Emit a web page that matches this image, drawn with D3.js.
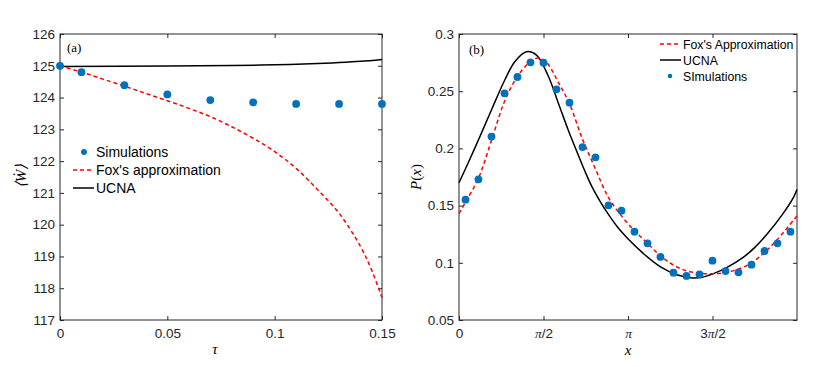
<!DOCTYPE html>
<html>
<head>
<meta charset="utf-8">
<script src="https://cdn.jsdelivr.net/npm/d3@7"></script>
<style>
body { margin: 0; background: #fff; }
.tick text { font-family: "Liberation Sans", Arial, sans-serif; font-size: 13.5px; fill: #262626; }
.tick line { stroke: #262626; }
.it { font-family: "Liberation Serif", serif; font-style: italic; }
.leg { font-family: "Liberation Sans", Arial, sans-serif; fill: #000; }
</style>
</head>
<body>
<svg id="fig" width="830" height="367"></svg>
<script>
// panel (a): work rate vs tau
var tauSim = [0, 0.01, 0.03, 0.05, 0.07, 0.09, 0.11, 0.13, 0.15];
var wSim = [125.0, 124.80, 124.39, 124.10, 123.92, 123.85, 123.80, 123.80, 123.80];
var tauFox = [0, 0.01, 0.02, 0.03, 0.04, 0.05, 0.06, 0.07, 0.08, 0.09, 0.10, 0.11, 0.12, 0.13, 0.14, 0.145, 0.15];
var wFox = [125.0, 124.80, 124.58, 124.36, 124.13, 123.90, 123.66, 123.40, 123.08, 122.72, 122.30, 121.77, 121.10, 120.36, 119.31, 118.60, 117.70];
var tauUcna = [0, 0.05, 0.08, 0.10, 0.12, 0.13, 0.14, 0.15];
var wUcna = [124.98, 124.99, 125.01, 125.03, 125.07, 125.10, 125.14, 125.20];
var aYTicks = [117, 118, 119, 120, 121, 122, 123, 124, 125, 126];
var aXTicks = [0, 0.05, 0.1, 0.15];
var aXLabels = ["0", "0.05", "0.1", "0.15"];

// panel (b): stationary distribution
var xSim = [0.121, 0.362, 0.604, 0.846, 1.087, 1.329, 1.571, 1.812, 2.054, 2.296, 2.537, 2.779, 3.020,
            3.262, 3.504, 3.745, 3.987, 4.229, 4.470, 4.712, 4.954, 5.195, 5.437, 5.679, 5.920, 6.162];
var pSim = [0.1552, 0.1730, 0.2103, 0.2481, 0.2624, 0.2752, 0.2749, 0.2516, 0.2400, 0.2012, 0.1922, 0.1502, 0.1456,
            0.1272, 0.1170, 0.1051, 0.0914, 0.0885, 0.0899, 0.1019, 0.0928, 0.0917, 0.0984, 0.1103, 0.1170, 0.1272];
var xFox = [0, 0.121, 0.362, 0.604, 0.846, 1.087, 1.329, 1.471, 1.629, 1.844, 2.054, 2.296, 2.537, 2.779, 3.020,
            3.262, 3.504, 3.745, 3.987, 4.229, 4.470, 4.712, 4.954, 5.195, 5.437, 5.679, 5.920, 6.283];
var pFox = [0.143, 0.153, 0.174, 0.207, 0.241, 0.263, 0.276, 0.279, 0.275, 0.258, 0.239, 0.208, 0.182, 0.157, 0.141,
            0.128, 0.117, 0.106, 0.098, 0.093, 0.091, 0.0905, 0.0915, 0.0945, 0.100, 0.109, 0.1205, 0.141];
var xUcna = [0, 0.168, 0.385, 0.603, 0.851, 1.037, 1.255, 1.441, 1.657, 1.844, 2.030, 2.154, 2.328, 2.466, 2.620,
             2.775, 2.950, 3.140, 3.430, 3.740, 4.050, 4.300, 4.500, 4.730, 5.000, 5.289, 5.500, 5.724, 6.000, 6.221, 6.283];
var pUcna = [0.170, 0.187, 0.210, 0.2336, 0.2598, 0.2758, 0.2845, 0.2816, 0.2635, 0.2400, 0.2161, 0.2015, 0.1815, 0.1670, 0.1540,
             0.1425, 0.1310, 0.1210, 0.1080, 0.0966, 0.0895, 0.0870, 0.0872, 0.0905, 0.0965, 0.1050, 0.1135, 0.1250, 0.1415, 0.1575, 0.1640];
var bYTicks = [0.05, 0.1, 0.15, 0.2, 0.25, 0.3];
var bXTicks = [0, Math.PI / 2, Math.PI, 3 * Math.PI / 2];
var bXLabels = ["0", "π/2", "π", "3π/2"];

var blue = "#0072bd";
var svg = d3.select("#fig");

function frame(x, y, xt, yt, xfmt, yfmt) {
    var g = svg.append("g");
    var x0 = x.range()[0], x1 = x.range()[1], y0 = y.range()[0], y1 = y.range()[1];
    g.append("g").attr("transform", "translate(0," + y0 + ")")
        .call(d3.axisBottom(x).tickValues(xt).tickFormat(xfmt).tickSizeInner(-4).tickSizeOuter(0).tickPadding(8));
    g.append("g").attr("transform", "translate(0," + y1 + ")")
        .call(d3.axisTop(x).tickValues(xt).tickFormat("").tickSizeInner(-4).tickSizeOuter(0));
    g.append("g").attr("transform", "translate(" + x0 + ",0)")
        .call(d3.axisLeft(y).tickValues(yt).tickFormat(yfmt).tickSizeInner(-4).tickSizeOuter(0).tickPadding(5));
    g.append("g").attr("transform", "translate(" + x1 + ",0)")
        .call(d3.axisRight(y).tickValues(yt).tickFormat("").tickSizeInner(-4).tickSizeOuter(0));
    g.selectAll(".domain").remove();
    g.append("rect")
        .attr("x", x0).attr("y", y1)
        .attr("width", x1 - x0).attr("height", y0 - y1)
        .attr("fill", "none").attr("stroke", "#262626").attr("stroke-width", 1);
    return g;
}

function curve(xs, ys, x, y, color, dash) {
    var pts = xs.map(function (d, i) { return [d, ys[i]]; });
    var line = d3.line()
        .x(function (d) { return x(d[0]); })
        .y(function (d) { return y(d[1]); })
        .curve(d3.curveCatmullRom.alpha(0.5));
    svg.append("path").datum(pts)
        .attr("d", line)
        .attr("fill", "none")
        .attr("stroke", color)
        .attr("stroke-width", 1.5)
        .attr("stroke-dasharray", dash);
}

function dots(xs, ys, x, y) {
    svg.append("g").selectAll("circle")
        .data(xs)
        .enter().append("circle")
        .attr("cx", function (d) { return x(d); })
        .attr("cy", function (d, i) { return y(ys[i]); })
        .attr("r", 3.9)
        .attr("fill", blue);
}

// ---------- panel (a)
var xa = d3.scaleLinear().domain([0, 0.15]).range([60, 382]);
var ya = d3.scaleLinear().domain([117, 126]).range([320, 34]);
frame(xa, ya, aXTicks, aYTicks, function (d, i) { return aXLabels[i]; }, d3.format("d"));
curve(tauUcna, wUcna, xa, ya, "#000", null);
curve(tauFox, wFox, xa, ya, "#ff0000", "4,3");
dots(tauSim, wSim, xa, ya);

svg.append("text").attr("x", 67).attr("y", 52)
    .style("font-family", "Liberation Serif, serif").style("font-size", "13px").text("(a)");
svg.append("text").attr("class", "it").attr("x", 215).attr("y", 354)
    .attr("text-anchor", "middle").style("font-size", "15px").text("τ");
svg.append("text").attr("class", "it")
    .attr("transform", "translate(26,176) rotate(-90)")
    .attr("text-anchor", "middle").style("font-size", "15px").text("⟨W\u0307⟩");

// legend (a)
var la = svg.append("g");
la.append("circle").attr("cx", 84).attr("cy", 152).attr("r", 3).attr("fill", blue);
la.append("line").attr("x1", 73).attr("x2", 94).attr("y1", 170).attr("y2", 170)
    .attr("stroke", "#ff0000").attr("stroke-width", 1.5).attr("stroke-dasharray", "4,3");
la.append("line").attr("x1", 73).attr("x2", 94).attr("y1", 188).attr("y2", 188)
    .attr("stroke", "#000").attr("stroke-width", 1.5);
la.selectAll("text").data(["Simulations", "Fox's approximation", "UCNA"])
    .enter().append("text").attr("class", "leg")
    .attr("x", 96).attr("y", function (d, i) { return 157 + i * 18; })
    .style("font-size", "14px").text(function (d) { return d; });

// ---------- panel (b)
var xb = d3.scaleLinear().domain([0, 2 * Math.PI]).range([459, 797]);
var yb = d3.scaleLinear().domain([0.05, 0.3]).range([320, 34]);
var fb = frame(xb, yb, bXTicks, bYTicks, function (d, i) { return bXLabels[i]; }, function (d) { return d3.format("")(+d.toFixed(2)); });
// pi in the tick labels set in italic serif
fb.selectAll(".tick text").each(function () {
    var t = d3.select(this), s = t.text();
    if (s.indexOf("π") < 0) return;
    t.text(null);
    s.split(/(π)/).forEach(function (part) {
        if (!part) return;
        var sp = t.append("tspan").text(part);
        if (part == "π") sp.style("font-family", "Liberation Serif, serif").style("font-style", "italic");
    });
});
curve(xUcna, pUcna, xb, yb, "#000", null);
curve(xFox, pFox, xb, yb, "#ff0000", "4,3");
dots(xSim, pSim, xb, yb);

svg.append("text").attr("x", 469).attr("y", 54)
    .style("font-family", "Liberation Serif, serif").style("font-size", "13px").text("(b)");
svg.append("text").attr("class", "it").attr("x", 628).attr("y", 355)
    .attr("text-anchor", "middle").style("font-size", "15px").text("x");
var py = svg.append("text").attr("class", "it")
    .attr("transform", "translate(421,177) rotate(-90)")
    .attr("text-anchor", "middle").style("font-size", "15px");
py.append("tspan").text("P");
py.append("tspan").style("font-style", "normal").text("(");
py.append("tspan").text("x");
py.append("tspan").style("font-style", "normal").text(")");

// legend (b)
var lb = svg.append("g");
lb.append("line").attr("x1", 660).attr("x2", 681).attr("y1", 44).attr("y2", 44)
    .attr("stroke", "#ff0000").attr("stroke-width", 1.5).attr("stroke-dasharray", "4,3");
lb.append("line").attr("x1", 660).attr("x2", 681).attr("y1", 60).attr("y2", 60)
    .attr("stroke", "#000").attr("stroke-width", 1.5);
lb.append("circle").attr("cx", 670).attr("cy", 76).attr("r", 2.3).attr("fill", blue);
lb.selectAll("text").data(["Fox's Approximation", "UCNA", "SImulations"])
    .enter().append("text").attr("class", "leg")
    .attr("x", 683).attr("y", function (d, i) { return 48.5 + i * 16; })
    .style("font-size", "12.3px").text(function (d) { return d; });
</script>
</body>
</html>
